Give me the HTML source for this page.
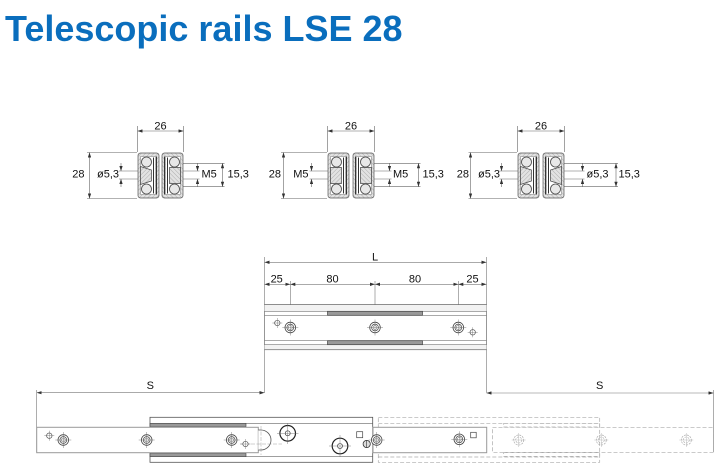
<!DOCTYPE html>
<html><head><meta charset="utf-8"><style>
html,body{margin:0;padding:0;background:#fff;}
svg{display:block;}
text{font-family:"Liberation Sans",Arial,sans-serif;}
</style></head><body>
<svg width="727" height="474" viewBox="0 0 727 474" xmlns="http://www.w3.org/2000/svg">
<defs>
<marker id="a" viewBox="0 0 6 4" refX="6" refY="2" markerWidth="5" markerHeight="3.4" markerUnits="userSpaceOnUse" orient="auto-start-reverse"><path d="M0,0L6,2L0,4z" fill="#333"/></marker>
<pattern id="h" patternUnits="userSpaceOnUse" width="3" height="3" patternTransform="rotate(45)"><rect width="3" height="3" fill="#e2e2e2"/><line x1="0" y1="0" x2="0" y2="3" stroke="#a0a0a0" stroke-width="0.8"/></pattern>
<g id="halfT">
<rect x="0.5" y="0.5" width="21" height="45" rx="2.5" fill="url(#h)" stroke="#555" stroke-width="0.7"/>
<path d="M3,4H18V42H3Z" fill="#fff" stroke="#777" stroke-width="0.5"/>
<circle cx="9" cy="9.5" r="5" fill="#e8e8e8" stroke="#444" stroke-width="0.8"/>
<circle cx="9" cy="36.5" r="5" fill="#e8e8e8" stroke="#444" stroke-width="0.8"/>
<path d="M3,14L14,17.5V28.5L3,32Z" fill="url(#h)" stroke="#444" stroke-width="0.7"/>
<path d="M16,5V41M19,4V42" stroke="#333" stroke-width="1" fill="none"/>
</g>
<g id="halfM">
<rect x="0.5" y="0.5" width="21" height="45" rx="2.5" fill="url(#h)" stroke="#555" stroke-width="0.7"/>
<path d="M3,4H18V42H3Z" fill="#fff" stroke="#777" stroke-width="0.5"/>
<circle cx="9" cy="9.5" r="5" fill="#e8e8e8" stroke="#444" stroke-width="0.8"/>
<circle cx="9" cy="36.5" r="5" fill="#e8e8e8" stroke="#444" stroke-width="0.8"/>
<path d="M3,15H14V31H3Z" fill="url(#h)" stroke="#444" stroke-width="0.7"/>
<path d="M16,5V41M19,4V42" stroke="#333" stroke-width="1" fill="none"/>
</g>
<g id="dh">
<circle r="5.3" fill="#fff" stroke="#444" stroke-width="0.8"/>
<circle r="3.4" fill="none" stroke="#444" stroke-width="0.7"/>
<circle r="2" fill="none" stroke="#666" stroke-width="0.5"/>
<path d="M-8,0H8M0,-8V8" stroke="#666" stroke-width="0.4"/>
</g>
<g id="sh">
<circle r="2.7" fill="#fff" stroke="#555" stroke-width="0.7"/>
<path d="M-5,0H5M0,-5V5" stroke="#666" stroke-width="0.4"/>
</g>
<g id="gh">
<circle r="5" fill="none" stroke="#aaa" stroke-width="0.7" stroke-dasharray="2,1"/>
<circle r="3" fill="none" stroke="#aaa" stroke-width="0.6" stroke-dasharray="2,1"/>
<path d="M-7,0H7M0,-7V7" stroke="#aaa" stroke-width="0.4"/>
</g>
</defs>

<!-- Title -->
<text x="5" y="41" font-size="36" font-weight="bold" fill="#0a6ebd">Telescopic rails LSE 28</text>

<!-- ===== Cross-section 1 ===== -->
<g stroke="#666" stroke-width="0.6" fill="none">
<path d="M137.5,126V152M183.5,126V152"/>
<line x1="137.5" y1="131" x2="183.5" y2="131" marker-start="url(#a)" marker-end="url(#a)"/>
<path d="M87,152.5H137M87,198.5H137"/>
<line x1="89.5" y1="152.5" x2="89.5" y2="198.5" marker-start="url(#a)" marker-end="url(#a)"/>
<path d="M119,171H142M119,179H142"/>
<line x1="121" y1="163" x2="121" y2="171" marker-end="url(#a)"/>
<line x1="121" y1="187" x2="121" y2="179" marker-end="url(#a)"/>
<path d="M176,171H199.5M176,179H199.5"/>
<line x1="197.5" y1="163" x2="197.5" y2="171" marker-end="url(#a)"/>
<line x1="197.5" y1="187" x2="197.5" y2="179" marker-end="url(#a)"/>
<path d="M181,163.3H224.5M181,186.7H224.5"/>
<line x1="222.5" y1="163.3" x2="222.5" y2="186.7" marker-start="url(#a)" marker-end="url(#a)"/>
</g>
<use href="#halfT" x="137.5" y="152.5"/>
<use href="#halfM" transform="translate(183.5,152.5) scale(-1,1)"/>
<g font-size="11" fill="#111">
<text x="160.5" y="129.5" text-anchor="middle">26</text>
<text x="84.5" y="177.5" text-anchor="end">28</text>
<text x="119" y="177.5" text-anchor="end">ø5,3</text>
<text x="201.5" y="177.5">M5</text>
<text x="227.5" y="177.5">15,3</text>
</g>

<!-- ===== Cross-section 2 ===== -->
<g stroke="#666" stroke-width="0.6" fill="none">
<path d="M327.5,126V152M374.5,126V152"/>
<line x1="327.5" y1="131" x2="374.5" y2="131" marker-start="url(#a)" marker-end="url(#a)"/>
<path d="M281,152.5H327M281,198.5H327"/>
<line x1="283.5" y1="152.5" x2="283.5" y2="198.5" marker-start="url(#a)" marker-end="url(#a)"/>
<path d="M309.5,171H332M309.5,179H332"/>
<line x1="311.5" y1="163" x2="311.5" y2="171" marker-end="url(#a)"/>
<line x1="311.5" y1="187" x2="311.5" y2="179" marker-end="url(#a)"/>
<path d="M369,171H391.5M369,179H391.5"/>
<line x1="389.5" y1="163" x2="389.5" y2="171" marker-end="url(#a)"/>
<line x1="389.5" y1="187" x2="389.5" y2="179" marker-end="url(#a)"/>
<path d="M372,163.3H420.5M372,186.7H420.5"/>
<line x1="418.5" y1="163.3" x2="418.5" y2="186.7" marker-start="url(#a)" marker-end="url(#a)"/>
</g>
<use href="#halfM" x="327.5" y="152.5"/>
<use href="#halfM" transform="translate(374.5,152.5) scale(-1,1)"/>
<g font-size="11" fill="#111">
<text x="351" y="129.5" text-anchor="middle">26</text>
<text x="281" y="177.5" text-anchor="end">28</text>
<text x="308.5" y="177.5" text-anchor="end">M5</text>
<text x="393" y="177.5">M5</text>
<text x="422.5" y="177.5">15,3</text>
</g>

<!-- ===== Cross-section 3 ===== -->
<g stroke="#666" stroke-width="0.6" fill="none">
<path d="M517.5,126V152M564.5,126V152"/>
<line x1="517.5" y1="131" x2="564.5" y2="131" marker-start="url(#a)" marker-end="url(#a)"/>
<path d="M468.5,152.5H517M468.5,198.5H517"/>
<line x1="470.5" y1="152.5" x2="470.5" y2="198.5" marker-start="url(#a)" marker-end="url(#a)"/>
<path d="M499.5,171H522M499.5,179H522"/>
<line x1="501.5" y1="163" x2="501.5" y2="171" marker-end="url(#a)"/>
<line x1="501.5" y1="187" x2="501.5" y2="179" marker-end="url(#a)"/>
<path d="M559,171H584.5M559,179H584.5"/>
<line x1="582.5" y1="163" x2="582.5" y2="171" marker-end="url(#a)"/>
<line x1="582.5" y1="187" x2="582.5" y2="179" marker-end="url(#a)"/>
<path d="M562,163.3H618M562,186.7H618"/>
<line x1="616" y1="163.3" x2="616" y2="186.7" marker-start="url(#a)" marker-end="url(#a)"/>
</g>
<use href="#halfT" x="517.5" y="152.5"/>
<use href="#halfT" transform="translate(564.5,152.5) scale(-1,1)"/>
<g font-size="11" fill="#111">
<text x="541" y="129.5" text-anchor="middle">26</text>
<text x="469" y="177.5" text-anchor="end">28</text>
<text x="500" y="177.5" text-anchor="end">ø5,3</text>
<text x="586.5" y="177.5">ø5,3</text>
<text x="618.5" y="177.5">15,3</text>
</g>

<!-- ===== Middle rail (closed) ===== -->
<g stroke="#777" stroke-width="0.6" fill="none">
<path d="M264.5,257V392.7M486.5,257V392.7"/>
<line x1="264.5" y1="262.3" x2="486.5" y2="262.3" marker-start="url(#a)" marker-end="url(#a)"/>
<line x1="264.5" y1="284.3" x2="290.3" y2="284.3" marker-start="url(#a)" marker-end="url(#a)"/>
<line x1="290.3" y1="284.3" x2="375" y2="284.3" marker-start="url(#a)" marker-end="url(#a)"/>
<line x1="375" y1="284.3" x2="458.3" y2="284.3" marker-start="url(#a)" marker-end="url(#a)"/>
<line x1="458.3" y1="284.3" x2="486.5" y2="284.3" marker-start="url(#a)" marker-end="url(#a)"/>
<path d="M290.3,281V336M375,281V336M458.3,281V336"/>
</g>
<g font-size="11" fill="#111" text-anchor="middle">
<text x="375" y="260.5">L</text>
<text x="276.7" y="282.5">25</text>
<text x="332.5" y="282.5">80</text>
<text x="415" y="282.5">80</text>
<text x="472.5" y="282.5">25</text>
</g>
<rect x="264.5" y="304.7" width="222" height="45" fill="#fff" stroke="#888" stroke-width="0.8"/>
<rect x="264.5" y="304.7" width="222" height="6.6" fill="#f2f2f2" stroke="none"/>
<rect x="264.5" y="344.7" width="222" height="5" fill="#f2f2f2" stroke="none"/>
<g stroke="#666" stroke-width="0.7" fill="none">
<path d="M264.5,304.7H486.5M264.5,349.7H486.5"/>
<path d="M264.5,311.3H486.5M264.5,315.3H486.5" stroke="#777"/>
<path d="M264.5,340.7H486.5M264.5,344.7H486.5" stroke="#777"/>
</g>
<rect x="327.5" y="311.3" width="95" height="4" fill="#999" stroke="#444" stroke-width="0.7"/>
<rect x="327.5" y="340.7" width="95" height="4" fill="#999" stroke="#444" stroke-width="0.7"/>
<use href="#sh" x="277.3" y="323"/>
<use href="#dh" x="290.3" y="327.5"/>
<use href="#dh" x="375" y="327.5"/>
<use href="#dh" x="458.3" y="327.5"/>
<use href="#sh" x="472.7" y="332.3"/>

<!-- ===== S dimensions ===== -->
<g stroke="#777" stroke-width="0.6" fill="none">
<path d="M36.7,390V452M713.5,390V452"/>
<line x1="36.7" y1="392.7" x2="264.5" y2="392.7" marker-start="url(#a)" marker-end="url(#a)"/>
<line x1="486.5" y1="393" x2="713.5" y2="393" marker-start="url(#a)" marker-end="url(#a)"/>
</g>
<g font-size="11" fill="#111" text-anchor="middle">
<text x="150.3" y="389">S</text>
<text x="599.7" y="389">S</text>
</g>

<!-- ===== Ghost (dashed, extended) ===== -->
<g stroke="#aaa" stroke-width="0.7" fill="none" stroke-dasharray="4,2">
<rect x="378.3" y="417.3" width="221.4" height="45"/>
<path d="M378.3,423.3H599.7M378.3,457H599.7"/>
<rect x="503.7" y="423.3" width="96" height="3.7"/>
<rect x="503.7" y="452.6" width="96" height="3.7"/>
<rect x="492.5" y="427.3" width="221" height="25"/>
</g>
<use href="#gh" x="518.7" y="440"/>
<use href="#gh" x="601.3" y="440"/>
<use href="#gh" x="686.3" y="440"/>

<!-- ===== Bottom outer rail (solid) ===== -->
<rect x="150" y="417.3" width="222.7" height="45" fill="#fff" stroke="#555" stroke-width="0.8"/>
<path d="M150,423.3H372.7M150,456.7H372.7" stroke="#666" stroke-width="0.7"/>
<rect x="150" y="423.3" width="96" height="3.5" fill="#999" stroke="#444" stroke-width="0.6"/>
<rect x="150" y="453.2" width="96" height="3.5" fill="#999" stroke="#444" stroke-width="0.6"/>

<!-- left inner rail -->
<rect x="36.7" y="427.3" width="221.6" height="25.4" fill="#fff" stroke="#999" stroke-width="1"/>
<path d="M258.3,430H261a10,10 0 0 1 0,20H258.3" fill="#fff" stroke="#555" stroke-width="0.8"/>
<path d="M240,444H282M261,426V455" stroke="#888" stroke-width="0.4" stroke-dasharray="4,1.5"/>
<use href="#sh" x="49.3" y="435.7"/>
<use href="#dh" x="63.3" y="440"/>
<use href="#dh" x="146.7" y="440"/>
<use href="#dh" x="231.7" y="440"/>
<use href="#sh" x="245.5" y="444"/>

<!-- big circles on outer rail -->
<g stroke="#222" fill="#fff">
<circle cx="287.7" cy="433.3" r="7.8" stroke-width="1.2"/>
<circle cx="287.7" cy="433.3" r="2.5" stroke-width="0.6"/>
<circle cx="340" cy="446" r="7.8" stroke-width="1.2"/>
<circle cx="340" cy="446" r="2.5" stroke-width="0.6"/>
</g>
<path d="M277,433.3H298.5M287.7,423V444M329,446H351M340,435V457" stroke="#666" stroke-width="0.4"/>
<rect x="356.7" y="431.7" width="6" height="6" fill="#fff" stroke="#444" stroke-width="0.7"/>

<!-- right middle piece -->
<rect x="373" y="427.3" width="113.7" height="25.4" fill="#fff" stroke="#999" stroke-width="1"/>
<circle cx="366.7" cy="444" r="3.6" fill="#ddd" stroke="#333" stroke-width="0.8"/>
<path d="M366.7,440.5V447.5" stroke="#333" stroke-width="0.6"/>
<use href="#dh" x="376.7" y="440"/>
<use href="#dh" x="459.3" y="439.3"/>
<rect x="470.7" y="432.3" width="5.5" height="5.5" fill="#fff" stroke="#444" stroke-width="0.7"/>
</svg>
</body></html>
